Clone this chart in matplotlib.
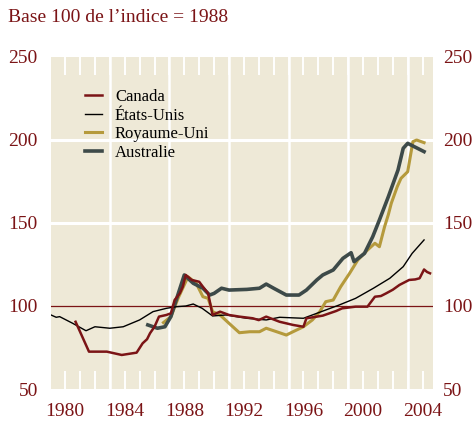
import matplotlib.pyplot as plt
import numpy as np

# values (index, 1988 = 100)
us_years = [1979.05, 1979.4, 1979.63, 1980.5, 1981.4, 1982.0, 1983.0, 1983.9, 1985.0,
            1985.9, 1986.8, 1987.5, 1988.1, 1988.6, 1989.2, 1989.9, 1990.8, 1992.2,
            1993.5, 1994.4, 1996.0, 1996.9, 1998.4, 1999.5, 2000.7, 2001.8, 2002.7,
            2003.3, 2004.1]
us_vals = [94.6, 93.2, 93.6, 89.6, 85.1, 87.5, 86.6, 87.5, 91.6,
           96.6, 98.6, 99.6, 100.0, 101.2, 98.6, 94.0, 94.6, 92.6,
           91.6, 93.2, 92.6, 95.6, 100.6, 104.6, 110.7, 116.7, 123.7,
           131.7, 139.8]

ca_years = [1980.7, 1981.6, 1982.8, 1983.8, 1984.8, 1985.2, 1985.5, 1985.7, 1986.0,
            1986.3, 1986.8, 1987.1, 1987.35, 1987.7, 1987.9, 1988.1, 1988.5, 1989.0,
            1989.25, 1989.6, 1989.9, 1990.4, 1991.0, 1991.7, 1992.6, 1993.0, 1993.5,
            1994.4, 1995.3, 1996.0, 1996.2, 1996.9, 1997.3, 1997.75, 1998.2, 1998.6,
            1999.5, 2000.3, 2000.8, 2001.2, 2001.55, 2002.0, 2002.45, 2003.1, 2003.5,
            2003.8, 2004.1, 2004.3, 2004.5]
ca_vals = [90.5, 72.5, 72.5, 70.5, 71.9, 77.5, 80.0, 83.6, 87.5,
           93.6, 94.6, 95.6, 103.6, 107.6, 111.6, 118.7, 115.7, 114.6,
           111.6, 107.6, 94.6, 96.6, 94.6, 93.6, 92.6, 91.5, 93.6,
           90.5, 88.6, 87.5, 92.6, 93.6, 94.2, 95.6, 97.0, 98.6,
           99.6, 99.6, 105.6, 106.0, 107.6, 109.8, 112.7, 115.7, 116.0,
           116.7, 122.0, 120.5, 119.7]

uk_years = [1986.6, 1987.1, 1987.6, 1988.25, 1988.8, 1989.25, 1989.6, 1989.9, 1990.4,
            1991.0, 1991.7, 1992.4, 1993.05, 1993.5, 1994.2, 1994.85, 1995.3, 1996.0,
            1996.6, 1997.1, 1997.5, 1998.0, 1998.5, 1999.1, 1999.65, 2000.3, 2000.8,
            2001.1, 2001.45, 2001.7, 2001.9, 2002.3, 2002.55, 2003.0, 2003.35, 2003.6,
            2004.1]
uk_vals = [90.0, 93.6, 105.0, 117.6, 113.7, 105.6, 104.6, 96.6, 94.6,
           89.6, 83.9, 84.5, 84.5, 86.6, 84.5, 82.5, 84.5, 87.5,
           91.6, 96.6, 102.6, 103.6, 111.6, 119.7, 127.7, 133.7, 137.8,
           135.7, 147.8, 155.0, 161.9, 171.9, 176.9, 180.9, 199.0, 200.0,
           198.4]

au_years = [1985.55, 1986.2, 1986.7, 1987.1, 1987.6, 1988.0, 1988.6, 1989.25, 1989.7,
            1990.0, 1990.5, 1991.0, 1992.2, 1993.05, 1993.5, 1994.0, 1994.85, 1995.7,
            1996.2, 1996.9, 1997.3, 1998.0, 1998.65, 1999.2, 1999.4, 2000.1, 2000.65,
            2001.1, 2001.7, 2002.35, 2002.7, 2003.0, 2003.35, 2004.1]
au_vals = [88.6, 86.6, 87.5, 93.6, 107.6, 118.7, 113.7, 110.7, 106.6,
           107.6, 110.7, 109.6, 110.0, 110.7, 113.2, 110.7, 106.6, 106.6,
           109.6, 115.7, 118.7, 121.7, 128.7, 132.1, 126.7, 131.7, 141.7,
           151.8, 165.8, 181.9, 195.0, 198.0, 196.4, 193.0]

labels = ['Canada', 'États-Unis', 'Royaume-Uni', 'Australie']
tick_years = [1980, 1984, 1988, 1992, 1996, 2000, 2004]
y_ticks = [50, 100, 150, 200, 250]

red = '#7b1416'
beige = '#eee9d7'

plt.rcParams['font.family'] = ['Liberation Serif', 'DejaVu Serif']

fig = plt.figure(figsize=(4.74, 4.21), dpi=100)
ax = fig.add_axes([51/474, 1 - 389/421, 382/474, 332/421])
ax.set_facecolor(beige)
for s in ax.spines.values():
    s.set_visible(False)

ax.set_xlim(1979.05, 2004.7)
ax.set_ylim(50, 250)

# white grid: horizontal at 150/200, vertical every 4 years
for v in [150, 200]:
    ax.axhline(v, color='white', lw=2.2, zorder=1)
for yr in range(1983, 2004, 4):
    ax.axvline(yr, color='white', lw=1.8, zorder=1)
ax.axhline(100, color=red, lw=0.9, zorder=2)

l_uk, = ax.plot(uk_years, uk_vals, color='#b59a3c', lw=2.2, zorder=3)
l_au, = ax.plot(au_years, au_vals, color='#3d4a49', lw=2.6, zorder=4)
l_us, = ax.plot(us_years, us_vals, color='black', lw=1.0, zorder=5)
l_ca, = ax.plot(ca_years, ca_vals, color=red, lw=1.8, zorder=6)

ax.set_xticks(tick_years)
ax.set_xticklabels([str(y) for y in tick_years])
ax.set_xticks(range(1980, 2005), minor=True)
ax.tick_params(axis='x', which='both', direction='in', length=13, width=1.4,
               color='white', top=True, bottom=True, pad=10,
               labelsize=14, labelcolor=red)
ax.set_yticks(y_ticks)
ax.tick_params(axis='y', length=0, pad=9.5, labelsize=14, labelcolor=red)

# right-hand scale
ax2 = ax.twinx()
ax2.set_ylim(ax.get_ylim())
ax2.set_yticks(y_ticks)
for s in ax2.spines.values():
    s.set_visible(False)
ax2.tick_params(axis='y', length=0, pad=7, labelsize=14, labelcolor=red)

leg = ax.legend([l_ca, l_us, l_uk, l_au], labels, loc='upper left',
                bbox_to_anchor=(0.089, 0.903), frameon=False, fontsize=12,
                handlelength=1.0, handletextpad=0.8, labelspacing=0.15,
                borderpad=0, borderaxespad=0)

fig.text(8/474, 1 - 22/421, 'Base 100 de l’indice = 1988', color=red,
         fontsize=14, va='baseline', ha='left')

fig.savefig('out.png', dpi=100, facecolor='white')
